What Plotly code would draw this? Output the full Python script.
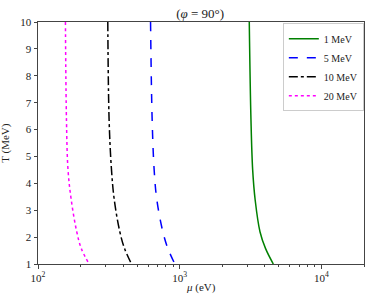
import plotly.graph_objects as go

# Temperature samples (MeV)
T_vals = [10, 6.36, 4.50, 3.38, 2.2, 1.58, 1]

# mu (eV) for each energy curve
mu_1MeV = [3099, 3186, 3275, 3411, 3688, 4034, 4580]
mu_5MeV = [622.9, 639.3, 660.5, 690.2, 760.7, 825.2, 924.8]
mu_10MeV = [310.9, 317.6, 330.2, 345.6, 378.0, 407.9, 457.2]
mu_20MeV = [156.2, 158.8, 162.9, 171.7, 187.7, 202.0, 229.3]

labels = ["1 MeV", "5 MeV", "10 MeV", "20 MeV"]
colors = ["#008000", "#0000ff", "#000000", "#ff00ff"]
dashes = ["solid", "dash", "dashdot", "dot"]
series = [mu_1MeV, mu_5MeV, mu_10MeV, mu_20MeV]

x_major = [100, 1000, 10000]
x_major_text = ["10<sup>2</sup>", "10<sup>3</sup>", "10<sup>4</sup>"]
y_ticks = [1, 2, 3, 4, 5, 6, 7, 8, 9, 10]

minor_vals = []
for dec in [100, 1000, 10000]:
    for k in range(2, 10):
        v = dec * k
        if v <= 20000:
            minor_vals.append(v)

FONT = "Liberation Serif"
AX = "#444444"
TXT = "#222222"

fig = go.Figure()
for lab, col, dsh, mu in zip(labels, colors, dashes, series):
    fig.add_trace(go.Scatter(
        x=mu, y=T_vals, mode="lines", name=lab,
        line=dict(color=col, width=1.5, dash=dsh, shape="spline", smoothing=1.0),
    ))

fig.update_layout(
    width=374, height=302,
    margin=dict(l=38, r=10, t=22, b=38, autoexpand=False),
    paper_bgcolor="white", plot_bgcolor="white",
    font=dict(family=FONT, size=11, color=TXT),
    title=dict(text="(<i>φ</i> = 90°)", x=0.535, xanchor="center", y=0.957, yanchor="middle",
               font=dict(family=FONT, size=13, color=TXT)),
    showlegend=True,
    legend=dict(x=0.751, y=0.995, xanchor="left", yanchor="top",
                bgcolor="white", bordercolor="#cccccc", borderwidth=1,
                font=dict(family=FONT, size=10), tracegroupgap=0),
    xaxis=dict(type="log", range=[2, 4.30103], automargin=False,
               tickmode="array", tickvals=x_major, ticktext=x_major_text,
               ticks="outside", ticklen=3.5, tickwidth=1, tickcolor=AX,
               minor=dict(tickmode="array", tickvals=minor_vals, ticks="outside",
                          ticklen=2, tickwidth=0.8, tickcolor=AX, showgrid=False),
               showgrid=False, zeroline=False,
               showline=True, linecolor=AX, linewidth=1, mirror=True),
    yaxis=dict(range=[1, 10], tickmode="array", tickvals=y_ticks, automargin=False,
               ticks="outside", ticklen=3.5, tickwidth=1, tickcolor=AX,
               showgrid=False, zeroline=False,
               showline=True, linecolor=AX, linewidth=1, mirror=True),
    annotations=[
        dict(text="<i>μ</i> (eV)", xref="paper", yref="paper", x=0.5, y=-0.099,
             xanchor="center", yanchor="middle", showarrow=False,
             font=dict(family=FONT, size=11, color=TXT)),
        dict(text="T (MeV)", xref="paper", yref="paper", x=-0.102, y=0.5,
             xanchor="center", yanchor="middle", textangle=-90, showarrow=False,
             font=dict(family=FONT, size=11, color=TXT)),
    ],
)

fig.write_html("out.html",
               config={"displayModeBar": False},
               post_script="document.body.style.margin='0';document.body.style.padding='0';")
